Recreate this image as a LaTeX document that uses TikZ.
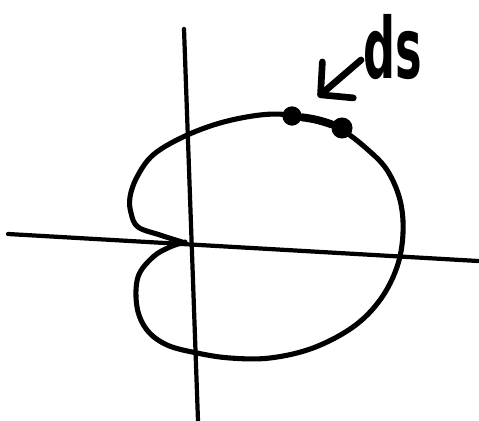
\documentclass[tikz,border=0pt]{standalone}
\usepackage{fontspec}
\setsansfont{DejaVu Sans}
\usetikzlibrary{arrows.meta}

\begin{document}
\begin{tikzpicture}[x=0.02cm,y=-0.02cm,
    axis/.style={line width=2.4pt,line cap=round},
    curve/.style={line width=2.9pt,line cap=round,line join=round},
    pt/.style={circle,fill=black,inner sep=0pt},
    pointer/.style={line width=3.8pt,line cap=round,-{Straight Barb[length=13pt,width=27pt,round]}}]

\useasboundingbox (0,0) rectangle (479,421);

% Axes
\coordinate (xl) at (8,234);
\coordinate (xr) at (478,261);
\coordinate (yt) at (184,29);
\coordinate (yb) at (198,421);
\draw[axis] (xl) -- (xr);
\draw[axis] (yt) -- (yb);

% The cardioid-like curve, cusp at the origin
\draw[curve] plot[smooth,tension=0.6] coordinates {
  (182,242) (160,235) (138,227) (131,213) (130,197) (137,177) (153,155)
  (183,137) (220,123) (260,115) (290,115) (320,122) (342,130) (367,149)
  (387,170) (400,200) (403,233) (397,267) (380,300) (353,327) (313,348)
  (270,358) (230,358) (197,353) (167,345) (147,330) (137,307) (138,277)
  (153,257) (170,247) (185,242)};

% The element ds on the curve
\node[pt,minimum size=11pt] (s1) at (292,116) {};
\node[pt,minimum size=12pt] (s2) at (342,128) {};
\draw[line width=4.5pt,line cap=round] (s1) to[bend left=6] (s2);

% Label and arrow
\node[anchor=base west,inner sep=0pt,xscale=0.53] (ds) at (363,79)
  {\fontsize{48}{48}\selectfont\sffamily\bfseries ds};
\coordinate (tail) at (361,60);
\coordinate (tip) at (318,97);
\draw[pointer] (tail) -- (tip);

\end{tikzpicture}
\end{document}
